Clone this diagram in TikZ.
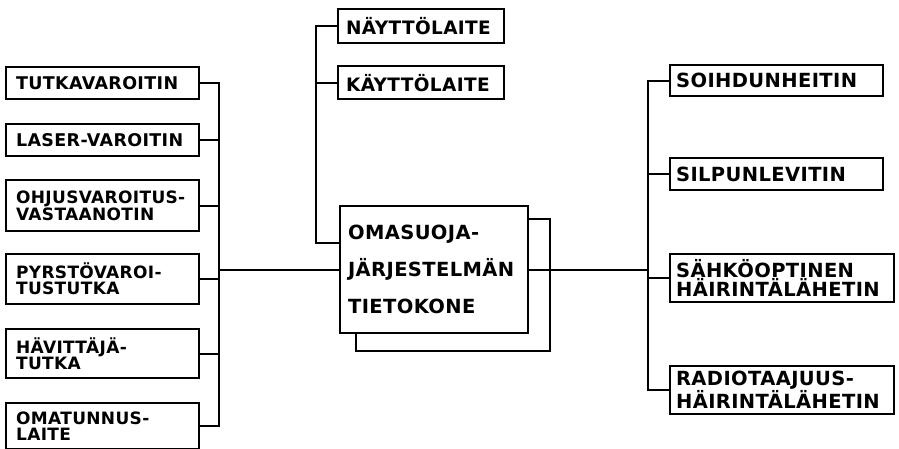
\documentclass[tikz,border=0pt]{standalone}
\usepackage{fontspec}
\newfontfamily\lettering{DejaVu Sans}[LetterSpace=2]
\lineskiplimit=-20pt

\begin{document}
\hyphenpenalty=10000
\exhyphenpenalty=10000
\begin{tikzpicture}[x=1pt, y=-1pt, line width=2.2pt,
    unit/.style={draw, anchor=north west, align=left, inner ysep=0pt,
        font=\lettering\bfseries\fontsize{17.5}{16}\selectfont},
    warner/.style={unit, inner xsep=10pt, text width=173pt},
    pair/.style={font=\lettering\bfseries\fontsize{17}{16}\selectfont},
    display/.style={unit, inner xsep=8pt, text width=150pt,
        font=\lettering\bfseries\fontsize{18.5}{16}\selectfont},
    jammer/.style={unit, inner xsep=6pt,
        font=\lettering\bfseries\fontsize{19.5}{17}\selectfont}]
    \useasboundingbox (0,0) rectangle (899,448);
    \clip (0,0) rectangle (899,448);

    % sensors on the left
    \node[warner, minimum height=32pt] (tutka) at (5,66) {TUTKAVAROITIN};
    \node[warner, minimum height=32pt] (laser) at (5,123) {LASER-VAROITIN};
    \node[warner, pair, minimum height=51pt] (ohjus) at (5,179) {OHJUSVAROITUS-\\VASTAANOTIN};
    \node[warner, pair, minimum height=50pt] (pyrsto) at (5,253) {PYRSTÖVAROI-\\TUSTUTKA};
    \node[warner, pair, minimum height=49pt] (havittaja) at (5,328) {HÄVITTÄJÄ-\\TUTKA};
    \node[warner, pair, minimum height=46pt] (omatunnus) at (5,402) {OMATUNNUS-\\LAITE};

    % computer
    \node[unit, inner xsep=8pt, text width=172pt, minimum height=127pt,
        font=\lettering\bfseries\fontsize{19.5}{37}\selectfont] (core) at (339,205)
        {OMASUOJA-\\JÄRJESTELMÄN\\TIETOKONE};
    \draw ([xshift=17pt]core.south west) -- ++(0,17) -| ([xshift=21pt,yshift=-14pt]core.north east)
        -- ([yshift=-14pt]core.north east);

    % operator units
    \node[display, minimum height=34pt] (naytto) at (337,8) {NÄYTTÖLAITE};
    \node[display, minimum height=33pt] (kaytto) at (337,65) {KÄYTTÖLAITE};

    % countermeasures on the right
    \node[jammer, text width=201pt, minimum height=31pt] (soihdun) at (669,64) {SOIHDUNHEITIN};
    \node[jammer, text width=201pt, minimum height=32pt] (silpun) at (669,157) {SILPUNLEVITIN};
    \node[jammer, text width=212pt, minimum height=48pt] (sahko) at (669,253) {SÄHKÖOPTINEN\\HÄIRINTÄLÄHETIN};
    \node[jammer, text width=212pt, minimum height=48pt] (radio) at (669,365) {RADIOTAAJUUS-\\HÄIRINTÄLÄHETIN};

    \coordinate (lbus) at (219,0);
    \coordinate (tbus) at (316,0);
    \coordinate (rbus) at (648,0);

    \draw (tutka.east) -- (tutka.east -| lbus) |- (omatunnus.east);
    \foreach \n in {laser, ohjus, pyrsto, havittaja}
        \draw (\n.east) -- (\n.east -| lbus);
    \draw (lbus |- core.west) -- (core.west);

    \draw ([yshift=-38pt]core.north west) -| (tbus |- naytto.west) -- (naytto.west);
    \draw (kaytto.west) -- (kaytto.west -| tbus);

    \draw (soihdun.west) -- (soihdun.west -| rbus) |- (radio.west);
    \foreach \n in {silpun, sahko}
        \draw (\n.west) -- (\n.west -| rbus);
    \draw (core.east) -- (core.east -| rbus);
\end{tikzpicture}
\end{document}
